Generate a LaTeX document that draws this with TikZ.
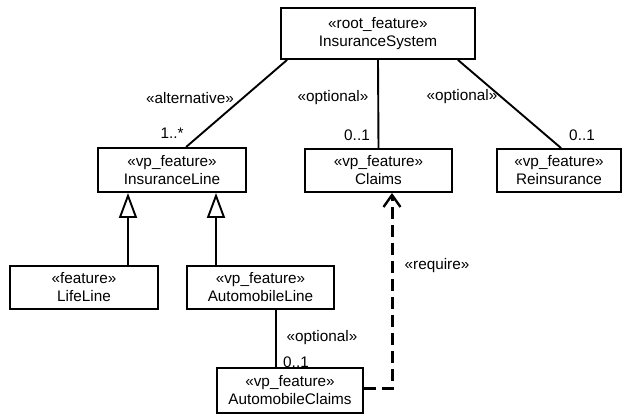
\documentclass[tikz,border=0pt]{standalone}
\usepackage{fontspec}
\setmainfont{Liberation Sans}
\usetikzlibrary{arrows.meta}
\begin{document}
\begin{tikzpicture}[x=1pt,y=-1pt,
  every node/.style={font=\fontsize{15.3}{18}\selectfont},
  feat/.style={draw, line width=1.9pt, align=center, inner sep=0pt},
  assoc/.style={line width=1.9pt},
  gen/.style={line width=1.9pt, -{Triangle[open,length=25pt,width=18pt,line width=1.9pt]}},
  req/.style={line width=3pt, dash pattern=on 12pt off 6pt,
              -{Straight Barb[length=12pt,width=17pt,line width=2.4pt]}},
  lbl/.style={inner sep=0pt}]
  \useasboundingbox (0,0) rectangle (633,414);

  % features
  \node[feat, minimum width=194pt, minimum height=51pt] (root) at (378,33.5)
    {«root\_feature»\\InsuranceSystem};
  \node[feat, minimum width=148pt, minimum height=44pt] (il) at (172,170)
    {«vp\_feature»\\InsuranceLine};
  \node[feat, minimum width=147pt, minimum height=43pt] (claims) at (378.5,170.5)
    {«vp\_feature»\\Claims};
  \node[feat, minimum width=124pt, minimum height=43pt] (reins) at (559,170.5)
    {«vp\_feature»\\Reinsurance};
  \node[feat, minimum width=148pt, minimum height=43pt] (life) at (84,287.5)
    {«feature»\\LifeLine};
  \node[feat, minimum width=147pt, minimum height=43pt] (autol) at (260.5,287.5)
    {«vp\_feature»\\AutomobileLine};
  \node[feat, minimum width=146pt, minimum height=45pt] (autoc) at (290,390.5)
    {«vp\_feature»\\AutomobileClaims};

  % associations from the root
  \draw[assoc] ([xshift=7pt]root.south west) -- ([xshift=89pt]il.north west);
  \draw[assoc] (root.south) -- (claims.north);
  \draw[assoc] ([xshift=-18pt]root.south east) -- ([xshift=65pt]reins.north west);

  % association below AutomobileLine
  \coordinate (a1) at ([xshift=15.5pt]autol.south);
  \draw[assoc] (a1) -- (a1 |- autoc.north);

  % generalizations
  \coordinate (g1) at ([xshift=44pt]life.north);
  \coordinate (g2) at ([xshift=-44.5pt]autol.north);
  \draw[gen] (g1) -- (g1 |- il.south);
  \draw[gen] (g2) -- (g2 |- il.south);

  % dependency
  \coordinate (rq) at ([xshift=13.5pt]claims.south);
  \draw[req] ([yshift=1.5pt]autoc.east) -| (rq);

  % labels
  \node[lbl] (l1) at (190,98) {«alternative»};
  \node[lbl] (m1) at (172,133) {1..*};
  \node[lbl] (l2) at (333,98) {«optional»};
  \node[lbl] (m2) at (357,135) {0..1};
  \node[lbl] (l3) at (462,97) {«optional»};
  \node[lbl] (m3) at (582,135) {0..1};
  \node[lbl] (l4) at (322,338) {«optional»};
  \node[lbl] (m4) at (296,362) {0..1};
  \node[lbl] (l5) at (437,266) {«require»};
\end{tikzpicture}
\end{document}
